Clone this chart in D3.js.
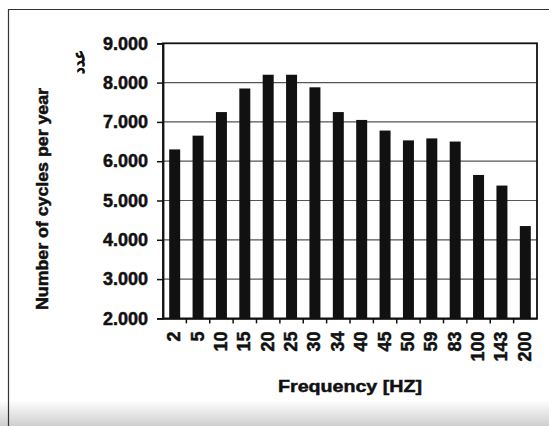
<!DOCTYPE html>
<html>
<head>
<meta charset="utf-8">
<script src="https://cdn.jsdelivr.net/npm/d3@7"></script>
<style>
  html, body { margin: 0; padding: 0; background: #fff; }
  svg { display: block; }
  text { font-family: "Liberation Sans", Arial, sans-serif; font-weight: bold; fill: #111; }
</style>
</head>
<body>
<svg id="chart" width="549" height="426"></svg>
<script>
// Annual cycle counts per excitation frequency
const frequencies = ["2", "5", "10", "15", "20", "25", "30", "34", "40", "45", "50", "59", "83", "100", "143", "200"];
const cyclesPerYear = [6300, 6650, 7250, 7850, 8200, 8200, 7880, 7250, 7050, 6780, 6530, 6580, 6500, 5650, 5380, 4350];
const yTicks = [2000, 3000, 4000, 5000, 6000, 7000, 8000, 9000];
const yTitle = "Number of cycles per year";
const xTitle = "Frequency [HZ]";
const unitNote = "عدد";

const W = 549, H = 426;
const plot = { left: 163, right: 537, top: 43.3, bottom: 318.4 };

const svg = d3.select("#chart");

// outer frame with the greyish strip along the bottom edge
svg.append("rect").attr("x", 0).attr("y", 0).attr("width", W).attr("height", H).attr("fill", "#fff");
const grad = svg.append("defs").append("linearGradient")
  .attr("id", "strip").attr("x1", 0).attr("y1", 0).attr("x2", 0).attr("y2", 1);
grad.append("stop").attr("offset", "0%").attr("stop-color", "#fff");
grad.append("stop").attr("offset", "100%").attr("stop-color", "#cfcfcf");
svg.append("rect").attr("x", 0).attr("y", 400).attr("width", W).attr("height", 26).attr("fill", "url(#strip)");
svg.append("path")
  .attr("d", `M8.5,${H}V9.5H${W}`)
  .attr("fill", "none").attr("stroke", "#333").attr("stroke-width", 1.2);

const x = d3.scaleBand()
  .domain(frequencies)
  .range([plot.left, plot.right])
  .paddingInner(0.53)
  .paddingOuter(0.265);

const y = d3.scaleLinear()
  .domain([2000, 9000])
  .range([plot.bottom, plot.top]);

const fmt = d3.formatLocale({ decimal: ",", thousands: ".", grouping: [3], currency: ["", ""] }).format(",");

// horizontal gridlines
svg.append("g")
  .selectAll("line")
  .data(yTicks.filter(t => t > 2000 && t < 9000))
  .join("line")
  .attr("x1", plot.left).attr("x2", plot.right)
  .attr("y1", d => y(d)).attr("y2", d => y(d))
  .attr("stroke", "#555").attr("stroke-width", 1.2);

// bars
svg.append("g")
  .selectAll("rect")
  .data(frequencies.map((f, i) => ({ f, v: cyclesPerYear[i] })))
  .join("rect")
  .attr("x", d => x(d.f))
  .attr("width", x.bandwidth())
  .attr("y", d => y(d.v))
  .attr("height", d => y(2000) - y(d.v))
  .attr("fill", "#111");

// plot border
svg.append("rect")
  .attr("x", plot.left).attr("y", plot.top)
  .attr("width", plot.right - plot.left).attr("height", plot.bottom - plot.top)
  .attr("fill", "none").attr("stroke", "#111").attr("stroke-width", 1.8);

// y axis
const yAxis = svg.append("g")
  .attr("transform", `translate(${plot.left},0)`)
  .call(d3.axisLeft(y).tickValues(yTicks).tickFormat(fmt).tickSize(6).tickPadding(9));
yAxis.select(".domain").attr("stroke", "#111").attr("stroke-width", 1.8);
yAxis.selectAll(".tick line").attr("stroke", "#111").attr("stroke-width", 1.5);
yAxis.selectAll(".tick text")
  .attr("font-size", 18).attr("font-family", "Liberation Sans, Arial, sans-serif")
  .attr("font-weight", "bold").attr("fill", "#111")
  .attr("stroke", "#111").attr("stroke-width", 0.5);

// x axis: ticks sit between categories, labels rotated
const xAxis = svg.append("g")
  .attr("transform", `translate(0,${plot.bottom})`)
  .call(d3.axisBottom(x).tickSize(0).tickPadding(0));
xAxis.select(".domain").attr("stroke", "#111").attr("stroke-width", 1.8);
xAxis.selectAll(".tick text")
  .attr("font-size", 18).attr("font-family", "Liberation Sans, Arial, sans-serif")
  .attr("font-weight", "bold").attr("fill", "#111")
  .attr("stroke", "#111").attr("stroke-width", 0.5)
  .attr("text-anchor", "end")
  .attr("dy", null).attr("y", 0)
  .attr("transform", "translate(5.5,13) rotate(-90)");
svg.append("g")
  .selectAll("line")
  .data(frequencies.slice(1))
  .join("line")
  .attr("x1", d => x(d) - x.step() * x.paddingInner() / 2)
  .attr("x2", d => x(d) - x.step() * x.paddingInner() / 2)
  .attr("y1", plot.bottom).attr("y2", plot.bottom + 5)
  .attr("stroke", "#111").attr("stroke-width", 1.5);

// axis titles
svg.append("text")
  .attr("transform", `translate(48,199) rotate(-90)`)
  .attr("text-anchor", "middle")
  .attr("font-size", 16)
  .attr("textLength", 222).attr("lengthAdjust", "spacingAndGlyphs")
  .attr("stroke", "#111").attr("stroke-width", 0.5)
  .text(yTitle);

svg.append("text")
  .attr("x", (plot.left + plot.right) / 2)
  .attr("y", 392)
  .attr("text-anchor", "middle")
  .attr("font-size", 17)
  .attr("textLength", 144).attr("lengthAdjust", "spacingAndGlyphs")
  .attr("stroke", "#111").attr("stroke-width", 0.5)
  .text(xTitle);

svg.append("text")
  .attr("transform", `translate(84,62) rotate(-90)`)
  .attr("text-anchor", "middle")
  .attr("font-family", "DejaVu Sans, sans-serif")
  .attr("font-size", 15)
  .attr("stroke", "#111").attr("stroke-width", 0.4)
  .text(unitNote);
</script>
</body>
</html>
